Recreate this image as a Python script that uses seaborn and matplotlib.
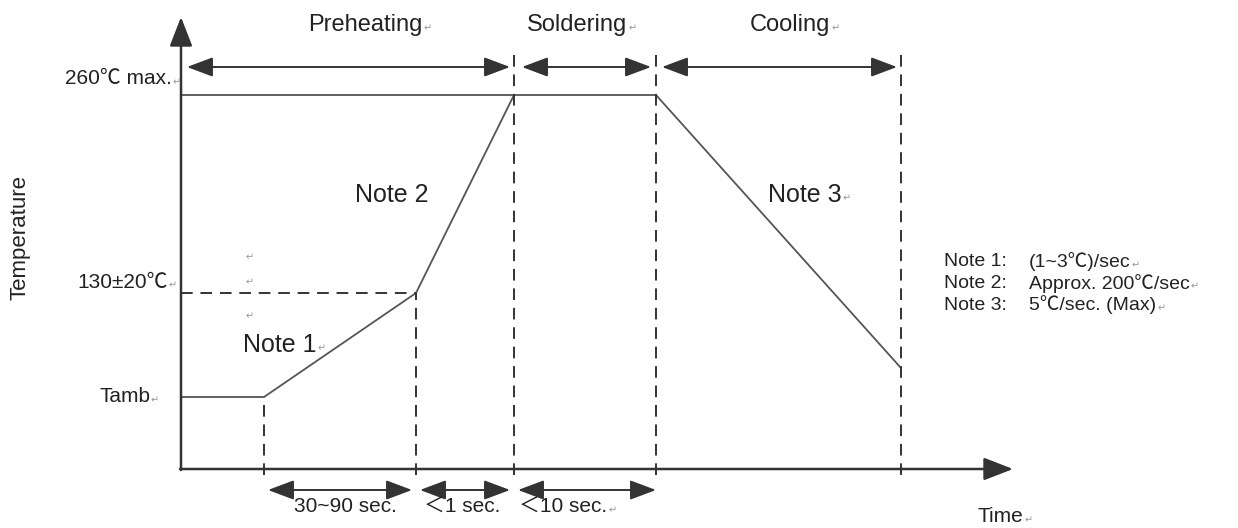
import numpy as np
import pandas as pd
import seaborn as sns
import matplotlib.pyplot as plt

sns.set_style('white')
plt.rcParams['font.family'] = ['Liberation Sans', 'Noto Sans CJK SC', 'DejaVu Sans']

# schematic reflow profile (diagram units, time to the right, temperature up)
profile_time = [0, 83, 235, 333, 475, 720]
profile_temp = [72, 72, 176, 374, 374, 101]
peak_temp = 374
soak_temp = 176

# phases shown on top
phase_names = ['Preheating', 'Soldering', 'Cooling']
phase_start = [6, 341, 481]
phase_end = [329, 470, 716]

# durations shown under the time axis
span_labels = ['30~90 sec.', '＜1 sec.', '＜10 sec.']
span_start = [87, 239, 337]
span_end = [231, 329, 475]

# vertical guide lines (time) and how high they go
guide_time = [83, 235, 333, 475, 720]
guide_top = [72, 176, 421, 421, 421]

level_labels = ['260℃ max.', '130±20℃', 'Tamb']
note_names = ['Note 1:', 'Note 2:', 'Note 3:']
note_texts = ['(1~3℃)/sec', 'Approx. 200℃/sec', '5℃/sec. (Max)']

fig = plt.figure(figsize=(12.38, 5.28), dpi=100)
ax = fig.add_axes([0, 0, 1, 1])
ax.set_xlim(-181, 1057)
ax.set_ylim(-59, 469)
ax.axis('off')

line_c = '#555555'
axis_c = '#333333'
txt_c = '#222222'

df = pd.DataFrame({'time': profile_time, 'temp': profile_temp})
sns.lineplot(data=df, x='time', y='temp', ax=ax, color=line_c, lw=1.3,
             estimator=None, sort=False)

# 260 max limit line from the axis
ax.plot([0, profile_time[3]], [peak_temp, peak_temp], color=line_c, lw=1.3)
# soak level dashed
ax.plot([0, profile_time[2]], [soak_temp, soak_temp], color=axis_c, lw=1.4,
        dashes=(6, 4))
for t, top in zip(guide_time, guide_top):
    ax.plot([t, t], [-6, top], color=axis_c, lw=1.4, dashes=(6, 4))

# axes with arrows
arr_kw = dict(arrowstyle='-|>,head_length=0.9,head_width=0.35', color=axis_c,
              lw=1.8, mutation_scale=20, shrinkA=0, shrinkB=0)
ax.annotate('', xy=(0, 452), xytext=(0, -1), arrowprops=arr_kw)
ax.annotate('', xy=(832, 0), xytext=(-1, 0), arrowprops=arr_kw)

dbl_kw = dict(arrowstyle='<|-|>,head_length=0.8,head_width=0.3', color=axis_c,
              lw=1.4, mutation_scale=20, shrinkA=0, shrinkB=0)
texts = []
label_x = [184, 396, 609]
for name, a, b, lx in zip(phase_names, phase_start, phase_end, label_x):
    ax.annotate('', xy=(a, 402), xytext=(b, 402), arrowprops=dbl_kw)
    texts.append(ax.text(lx, 444, name, ha='center', va='center',
                         fontsize=17, color=txt_c))

span_x = [164, 281, 382]
for i, (lab, a, b, lx) in enumerate(zip(span_labels, span_start, span_end, span_x)):
    ax.annotate('', xy=(a, -21), xytext=(b, -21), arrowprops=dbl_kw)
    t = ax.text(lx, -38, lab, ha='center', va='center', fontsize=15, color=txt_c)
    if i == 2:
        texts.append(t)

level_y = [390, 187, 72]
level_x = [-9, -13, -31]
for lab, lx, ly in zip(level_labels, level_x, level_y):
    texts.append(ax.text(lx, ly, lab, ha='right', va='center', fontsize=15,
                         color=txt_c))

ax.text(-161, 231, 'Temperature', rotation=90, ha='center', va='center',
        fontsize=16, color=txt_c)
texts.append(ax.text(797, -48, 'Time', ha='left', va='center', fontsize=15,
                     color=txt_c))

texts.append(ax.text(99, 124, 'Note 1', ha='center', va='center', fontsize=18,
                     color=txt_c))
ax.text(211, 274, 'Note 2', ha='center', va='center', fontsize=18, color=txt_c)
texts.append(ax.text(624, 274, 'Note 3', ha='center', va='center', fontsize=18,
                     color=txt_c))

for i, (n, s) in enumerate(zip(note_names, note_texts)):
    y = 207 - i * 21.5
    ax.text(763, y, n, ha='left', va='center', fontsize=14, color=txt_c)
    texts.append(ax.text(848, y, s, ha='left', va='center', fontsize=14,
                         color=txt_c))

# stray paragraph marks
for y in [212, 187, 153]:
    ax.text(69, y, '↵', ha='center', va='center', fontsize=7, color='#999999')

# paragraph marks after labels
fig.canvas.draw()
r = fig.canvas.get_renderer()
for t in texts:
    bb = t.get_window_extent(r)
    fig.text(bb.x1 + 1, bb.y0 + bb.height * 0.35, '↵', fontsize=7,
             color='#999999', ha='left', va='center', transform=None)

fig.savefig('out.png', dpi=100)
